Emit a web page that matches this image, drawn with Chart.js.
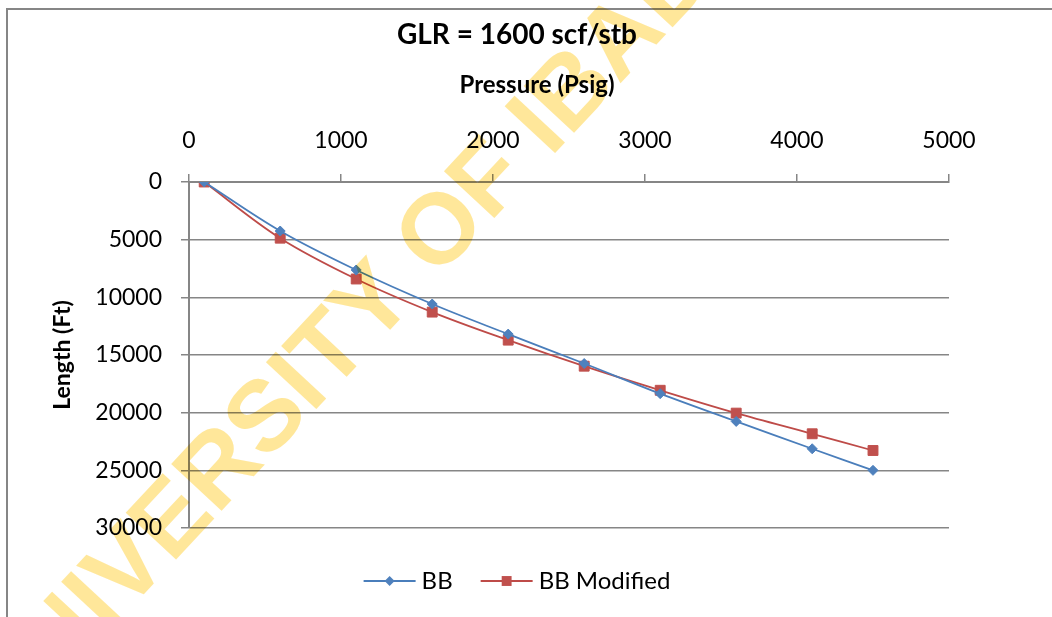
<!DOCTYPE html>
<html>
<head>
<meta charset="utf-8">
<script src="https://cdn.jsdelivr.net/npm/chart.js@4.4.1/dist/chart.umd.min.js"></script>
<style>
  html, body { margin: 0; padding: 0; background: #fff; }
</style>
</head>
<body>
<canvas id="glrChart" width="1052" height="617"></canvas>
<script>
const pressure = [100, 600, 1100, 1600, 2100, 2600, 3100, 3600, 4100, 4500];
const lengthBB = [0, 4250, 7630, 10580, 13190, 15740, 18350, 20760, 23130, 25000];
const lengthBBModified = [0, 4870, 8410, 11280, 13710, 15970, 18060, 20040, 21830, 23280];
const seriesNames = ["BB", "BB Modified"];
const chartTitle = "GLR = 1600 scf/stb";
const xTitle = "Pressure (Psig)";
const yTitle = "Length (Ft)";
const watermarkText = "UNIVERSITY OF IBADAN";

const axisGrey = "#868686";

Chart.defaults.font.family = "Lato, 'Open Sans', sans-serif";
Chart.defaults.color = "#000";

// frame, x axis title and legend line+marker
const decor = {
  id: "decor",
  beforeDraw(chart) {
    const ctx = chart.ctx;
    ctx.save();
    ctx.fillStyle = "#fff";
    ctx.fillRect(0, 0, chart.width, chart.height);
    ctx.strokeStyle = axisGrey;
    ctx.lineWidth = 2;
    ctx.strokeRect(7, 9, chart.width + 20, chart.height + 20);
    ctx.restore();
  },
  afterDraw(chart) {
    const ctx = chart.ctx;
    ctx.save();
    ctx.font = "bold 24px Lato, 'Open Sans', sans-serif";
    ctx.fillStyle = "#000";
    ctx.textAlign = "center";
    ctx.textBaseline = "middle";
    ctx.fillText(xTitle, 537, 85);

    chart.legend.legendHitBoxes.forEach((box, i) => {
      const ds = chart.data.datasets[i];
      const y = box.top + box.height / 2;
      const x0 = box.left;
      const x1 = box.left + 52;
      ctx.strokeStyle = ds.borderColor;
      ctx.lineWidth = 2;
      ctx.beginPath();
      ctx.moveTo(x0, y);
      ctx.lineTo(x1, y);
      ctx.stroke();
      const mx = (x0 + x1) / 2;
      ctx.fillStyle = ds.pointBackgroundColor;
      ctx.beginPath();
      if (ds.pointStyle === "rectRot") {
        const r = ds.pointRadius;
        ctx.moveTo(mx, y - r);
        ctx.lineTo(mx + r, y);
        ctx.lineTo(mx, y + r);
        ctx.lineTo(mx - r, y);
        ctx.closePath();
      } else {
        const h = ds.pointRadius * Math.SQRT1_2;
        ctx.rect(mx - h, y - h, 2 * h, 2 * h);
      }
      ctx.fill();
    });
    ctx.restore();
  }
};

const watermark = {
  id: "watermark",
  afterDraw(chart) {
    const ctx = chart.ctx;
    ctx.save();
    ctx.globalCompositeOperation = "multiply";
    ctx.fillStyle = "#FFE79A";
    ctx.font = "bold 100px 'Liberation Sans', Arial, sans-serif";
    const before = ctx.measureText("UNIVERSITY ").width;
    const oW = ctx.measureText("O").width;
    const ang = -47 * Math.PI / 180;
    const along = before + oW / 2;
    const up = -36;
    const ox = 437 - (along * Math.cos(ang) - up * Math.sin(ang));
    const oy = 227 - (along * Math.sin(ang) + up * Math.cos(ang));
    ctx.translate(ox, oy);
    ctx.rotate(ang);
    ctx.textAlign = "left";
    ctx.textBaseline = "alphabetic";
    ctx.fillText(watermarkText, 0, 0);
    ctx.restore();
  }
};

new Chart(document.getElementById("glrChart"), {
  type: "line",
  data: {
    datasets: [
      {
        label: seriesNames[0],
        data: pressure.map((p, i) => ({ x: p, y: lengthBB[i] })),
        borderColor: "#4A7EBB",
        borderWidth: 1.8,
        pointStyle: "rectRot",
        pointRadius: 5,
        pointBorderWidth: 1,
        pointBorderColor: "#4F81BD",
        pointBackgroundColor: "#4F81BD",
        tension: 0.35,
        fill: false,
      },
      {
        label: seriesNames[1],
        data: pressure.map((p, i) => ({ x: p, y: lengthBBModified[i] })),
        borderColor: "#BE4B48",
        borderWidth: 1.8,
        pointStyle: "rect",
        pointRadius: 7,
        pointBorderWidth: 1,
        pointBorderColor: "#C0504D",
        pointBackgroundColor: "#C0504D",
        tension: 0.35,
        fill: false,
      },
    ],
  },
  options: {
    responsive: false,
    animation: false,
    devicePixelRatio: 1,
    layout: { padding: { left: 85, right: 103, top: 0, bottom: 1 } },
    plugins: {
      title: {
        display: true,
        text: chartTitle,
        font: { size: 28, weight: "bold" },
        padding: { top: 18, bottom: 7.4 },
      },
      legend: {
        position: "bottom",
        labels: {
          boxWidth: 46,
          boxHeight: 50,
          padding: 28,
          font: { size: 24 },
          generateLabels: (chart) =>
            chart.data.datasets.map((ds, i) => ({
              text: ds.label,
              fillStyle: "rgba(0,0,0,0)",
              strokeStyle: "rgba(0,0,0,0)",
              lineWidth: 0,
              hidden: false,
              datasetIndex: i,
            })),
        },
      },
      tooltip: { enabled: false },
    },
    scales: {
      x: {
        type: "linear",
        position: "top",
        min: 0,
        max: 5000,
        ticks: { stepSize: 1000, padding: 20, font: { size: 23 }, callback: (v) => String(v) },
        grid: { drawOnChartArea: false, drawTicks: true, tickLength: 8, color: axisGrey, lineWidth: 1.5 },
        border: { display: true, color: axisGrey, width: 2 },
        afterFit(s) {
          s.height = 123;
          s.paddingLeft = 0;
          s.paddingRight = 0;
        },
      },
      y: {
        reverse: true,
        min: 0,
        max: 30000,
        ticks: { stepSize: 5000, padding: 19, font: { size: 23 }, callback: (v) => String(v) },
        grid: { color: axisGrey, lineWidth: 1.5, tickLength: 8 },
        border: { display: true, color: axisGrey, width: 2 },
        title: {
          display: true,
          text: yTitle,
          font: { size: 23, weight: "bold" },
          padding: { top: -35.8, bottom: 0 },
        },
        afterFit(s) {
          s.width = 104;
          s.paddingTop = 0;
          s.paddingBottom = 0;
        },
      },
    },
  },
  plugins: [decor, watermark],
});
</script>
</body>
</html>
